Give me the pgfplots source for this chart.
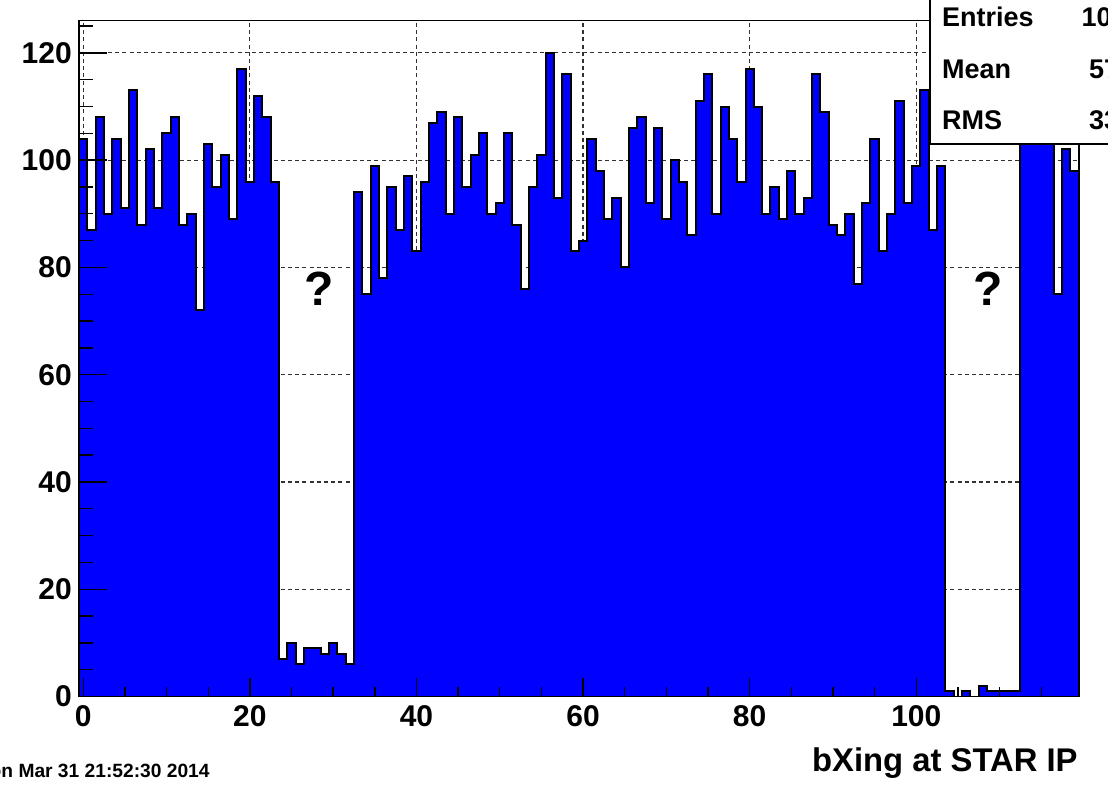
\documentclass[border=0pt]{standalone}
\usepackage{fontspec}
\setmainfont{Liberation Sans}
\usepackage{pgfplots}
\usepackage{pgfplotstable}
\pgfplotsset{compat=1.18}
\definecolor{histblue}{RGB}{0,0,255}
\definecolor{gridc}{RGB}{50,50,50}

% bin left edges (bins are centred on 0,1,...,119)
\pgfplotstableread{
x y
-0.5 104
0.5 87
1.5 108
2.5 90
3.5 104
4.5 91
5.5 113
6.5 88
7.5 102
8.5 91
9.5 105
10.5 108
11.5 88
12.5 90
13.5 72
14.5 103
15.5 95
16.5 101
17.5 89
18.5 117
19.5 96
20.5 112
21.5 108
22.5 96
23.5 7
24.5 10
25.5 6
26.5 9
27.5 9
28.5 8
29.5 10
30.5 8
31.5 6
32.5 94
33.5 75
34.5 99
35.5 78
36.5 95
37.5 87
38.5 97
39.5 83
40.5 96
41.5 107
42.5 109
43.5 90
44.5 108
45.5 95
46.5 101
47.5 105
48.5 90
49.5 92
50.5 105
51.5 88
52.5 76
53.5 95
54.5 101
55.5 120
56.5 93
57.5 116
58.5 83
59.5 85
60.5 104
61.5 98
62.5 89
63.5 93
64.5 80
65.5 106
66.5 108
67.5 92
68.5 106
69.5 89
70.5 100
71.5 96
72.5 86
73.5 111
74.5 116
75.5 90
76.5 110
77.5 104
78.5 96
79.5 117
80.5 110
81.5 90
82.5 95
83.5 89
84.5 98
85.5 90
86.5 93
87.5 116
88.5 109
89.5 88
90.5 86
91.5 90
92.5 77
93.5 92
94.5 104
95.5 83
96.5 90
97.5 111
98.5 92
99.5 99
100.5 113
101.5 87
102.5 99
103.5 1
104.5 0
105.5 1
106.5 0
107.5 2
108.5 1
109.5 1
110.5 1
111.5 1
112.5 110
113.5 108
114.5 112
115.5 106
116.5 75
117.5 102
118.5 98
119.5 98
}\histdata

\pgfplotsset{
  rootaxis/.style={
    at={(39.55pt,46.25pt)}, anchor=south west,
    scale only axis, width=499.8pt, height=337.9pt,
    xmin=-0.5, xmax=119.5, ymin=0, ymax=126,
  },
}

\begin{document}
\begin{tikzpicture}
\useasboundingbox (0,0) rectangle (554pt,394.5pt);
\clip (0,0) rectangle (554pt,394.5pt);

% axis 1: grid + histogram
\begin{axis}[rootaxis,
  xtick={0,20,...,100}, ytick={0,20,...,120},
  grid=major,
  major grid style={gridc, line width=0.6pt, dash pattern=on 2pt off 1.6pt},
  major tick length=0pt,
  xticklabels={}, yticklabels={},
  axis line style={draw=none},
]
\addplot[const plot, fill=histblue, draw=black, line width=1pt] table[x=x,y=y] {\histdata} \closedcycle;
\node[font=\bfseries\fontsize{24}{24}\selectfont, inner sep=0pt] at (axis cs:28.35,76.1) {?};
\node[font=\bfseries\fontsize{24}{24}\selectfont, inner sep=0pt] at (axis cs:108.6,76.1) {?};
\end{axis}

% axis 2: frame, x ticks and labels
\begin{axis}[rootaxis, axis on top,
  axis line style={line width=0.8pt},
  xtick={0,20,...,100}, minor xtick={5,10,...,115},
  ytick=\empty,
  xtick pos=bottom, tick align=inside,
  major tick length=9.5pt, minor tick length=4.7pt,
  every tick/.style={black, line width=0.7pt},
  /pgf/number format/assume math mode=true,
  xticklabel style={font=\bfseries\fontsize{15}{15}\selectfont, inner sep=0pt, anchor=north, yshift=-4.2pt},
]
\end{axis}

% axis 3: y ticks and labels
\begin{axis}[rootaxis, axis on top,
  axis line style={line width=0.8pt},
  xtick=\empty,
  ytick={0,20,...,120}, minor ytick={5,10,...,125},
  ytick pos=left, tick align=inside,
  major tick length=14pt, minor tick length=7pt,
  every tick/.style={black, line width=0.7pt},
  /pgf/number format/assume math mode=true,
  yticklabel style={font=\bfseries\fontsize{15}{15}\selectfont, inner sep=0pt, anchor=east, xshift=-3.5pt},
]
\end{axis}

% stats box (cut off at the picture's edge, as in the reference)
\draw[fill=white, line width=0.8pt] (465pt,322.5pt) rectangle (600pt,420pt);
\node[anchor=base west, inner sep=0pt, font=\bfseries\fontsize{13.5}{13.5}\selectfont] at (470.9pt,381.15pt) {Entries};
\node[anchor=base west, inner sep=0pt, font=\bfseries\fontsize{13.5}{13.5}\selectfont] at (470.9pt,355.35pt) {Mean};
\node[anchor=base west, inner sep=0pt, font=\bfseries\fontsize{13.5}{13.5}\selectfont] at (470.9pt,329.85pt) {RMS};
\node[anchor=base east, inner sep=0pt, font=\bfseries\fontsize{13.5}{13.5}\selectfont] at (578.5pt,381.15pt) {10004};
\node[anchor=base east, inner sep=0pt, font=\bfseries\fontsize{13.5}{13.5}\selectfont] at (578.5pt,355.35pt) {57.80};
\node[anchor=base east, inner sep=0pt, font=\bfseries\fontsize{13.5}{13.5}\selectfont] at (578.5pt,329.85pt) {33.41};

% x axis title and date stamp
\node[anchor=base east, inner sep=0pt, font=\bfseries\fontsize{16.4}{16.4}\selectfont] at (539pt,8.65pt) {bXing at STAR IP};
\node[anchor=base east, inner sep=0pt, font=\bfseries\fontsize{9.6}{9.6}\selectfont] at (105pt,6pt) {Mon Mar 31 21:52:30 2014};
\end{tikzpicture}
\end{document}
